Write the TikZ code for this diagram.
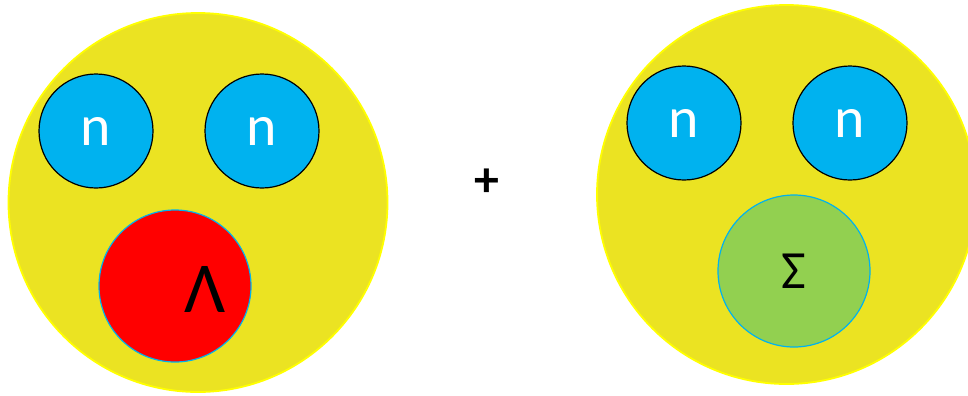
\documentclass[tikz,border=0pt]{standalone}
\usepackage{fontspec}
\setmainfont{Carlito}
\definecolor{giallo}{HTML}{EBE322}
\definecolor{bordogiallo}{HTML}{FFFF00}
\definecolor{azzurro}{HTML}{00B2EF}
\definecolor{rosso}{HTML}{FF0000}
\definecolor{verde}{HTML}{92D050}
\tikzset{
    nucleo/.style={circle, fill=giallo, draw=bordogiallo, line width=1.8bp, minimum size=2*\Rnuc bp, inner sep=0pt},
    neutrone/.style={circle, fill=azzurro, draw=black, line width=1.2bp, minimum size=2*\Rn bp, inner sep=0pt,
        text=white, font=\fontsize{58}{58}\selectfont},
    iperone/.style={circle, draw=azzurro, line width=1.2bp, minimum size=2*\Ry bp, inner sep=0pt}
}
\begin{document}
\begin{tikzpicture}[x=1bp,y=-1bp]

    % Raggi (in pixel del riferimento)
    \def\Rnuc{189.5}
    \def\Rn{57}
    \def\Ry{76}

    \useasboundingbox (0,0) rectangle (968,395);

    % Nuclei (sfondo giallo)
    \node[nucleo] (nucA) at (198,202.5) {};
    \node[nucleo] (nucB) at (786.5,194.5) {};

    % Neutroni
    \node[neutrone] (nA1) at (96,131) {n};
    \node[neutrone] (nA2) at (262,131) {n};
    \node[neutrone] (nB1) at (684,123) {n};
    \node[neutrone] (nB2) at (850,123) {n};

    % Iperoni
    \node[iperone, fill=rosso] (lam) at (175,286) {};
    \node[font=\fontsize{72}{72}\selectfont, inner sep=0pt] (lamtxt) at (205,289) {Λ};
    \node[iperone, fill=verde, font=\fontsize{54}{54}\selectfont] (sig) at (794,271) {Σ};

    % Somma
    \node[font=\fontsize{50}{50}\selectfont\bfseries, inner sep=0pt] (piu) at (487,182.5) {+};

\end{tikzpicture}
\end{document}
